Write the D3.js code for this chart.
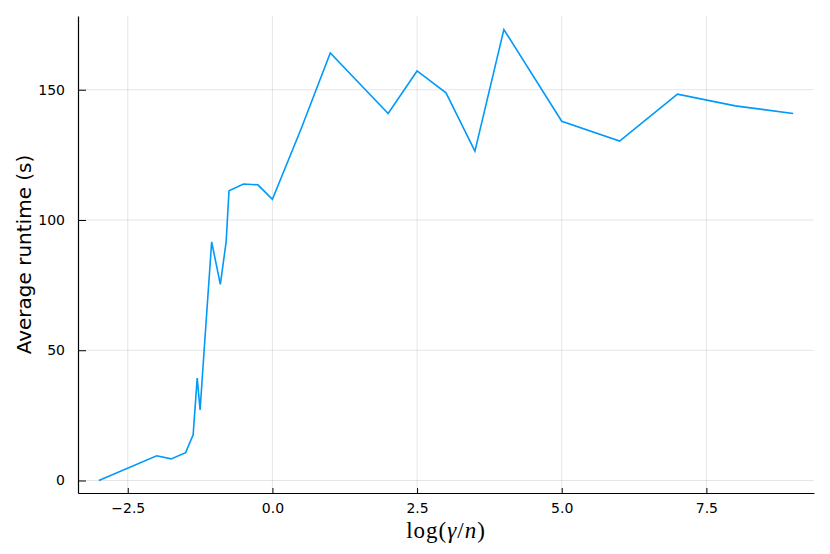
<!DOCTYPE html>
<html>
<head>
<meta charset="utf-8">
<script src="https://cdn.jsdelivr.net/npm/d3@7"></script>
<style>
  html, body { margin: 0; padding: 0; background: #fff; }
  svg { display: block; }
  .tick text { font-family: 'DejaVu Sans', sans-serif; font-size: 14px; fill: #000; }
</style>
</head>
<body>
<svg id="chart" width="830" height="554"></svg>
<script>
// ---- data ----
const logGammaN = [-3, -2, -1.75, -1.5, -1.37, -1.3, -1.25, -1.18, -1.05, -0.9, -0.8, -0.75, -0.5, -0.25, 0, 0.5, 1, 2, 2.5, 3, 3.5, 4, 5, 6, 7, 8, 9];
const avgRuntime = [0, 9.5, 8.3, 10.7, 17.5, 39.3, 27.1, 50, 91.6, 75.3, 91.6, 111.2, 113.8, 113.5, 107.9, 135.2, 164.1, 140.9, 157.2, 148.8, 126.4, 173.1, 137.9, 130.3, 148.3, 143.8, 140.9];
const xTicks = [-2.5, 0, 2.5, 5, 7.5];
const xTickLabels = ["\u22122.5", "0.0", "2.5", "5.0", "7.5"];
const yTicks = [0, 50, 100, 150];
const yTickLabels = ["0", "50", "100", "150"];
const xDomain = [-3.36, 9.36];
const yDomain = [-4.8, 178.3];

(function () {
  // ---- layout ----
  const pLeft = 78, pRight = 814, pTop = 16, pBottom = 493;
  const svg = d3.select("#chart");
  const x = d3.scaleLinear().domain(xDomain).range([pLeft, pRight]);
  const y = d3.scaleLinear().domain(yDomain).range([pBottom, pTop]);

  const font = "'DejaVu Sans', sans-serif";

  // grid
  svg.append("g").selectAll("line").data(xTicks).join("line")
    .attr("x1", d => x(d)).attr("x2", d => x(d))
    .attr("y1", pTop).attr("y2", pBottom)
    .attr("stroke", "#000").attr("stroke-opacity", 0.1).attr("stroke-width", 1);
  svg.append("g").selectAll("line").data(yTicks).join("line")
    .attr("x1", pLeft).attr("x2", pRight)
    .attr("y1", d => y(d)).attr("y2", d => y(d))
    .attr("stroke", "#000").attr("stroke-opacity", 0.1).attr("stroke-width", 1);

  // axes
  const xAxis = d3.axisBottom(x).tickValues(xTicks)
    .tickFormat((d, i) => xTickLabels[i]).tickSizeInner(-5).tickSizeOuter(0).tickPadding(10);
  const gx = svg.append("g").attr("transform", `translate(0,${pBottom})`).call(xAxis);
  gx.select(".domain").attr("stroke", "#000").attr("stroke-width", 1.2);
  gx.selectAll(".tick line").attr("stroke", "#000").attr("stroke-width", 1);

  const yAxis = d3.axisLeft(y).tickValues(yTicks)
    .tickFormat((d, i) => yTickLabels[i]).tickSizeInner(-8).tickSizeOuter(0).tickPadding(13);
  const gy = svg.append("g").attr("transform", `translate(${pLeft},0)`).call(yAxis);
  gy.select(".domain").attr("stroke", "#000").attr("stroke-width", 1.2);
  gy.selectAll(".tick line").attr("stroke", "#000").attr("stroke-width", 1);

  // line
  const pts = logGammaN.map((v, i) => [v, avgRuntime[i]]);
  svg.append("path")
    .datum(pts)
    .attr("fill", "none")
    .attr("stroke", "#009AFA")
    .attr("stroke-width", 1.6)
    .attr("stroke-linejoin", "miter")
    .attr("d", d3.line().x(d => x(d[0])).y(d => y(d[1])));

  // y label
  svg.append("text")
    .attr("transform", `translate(31,${(pTop + pBottom) / 2}) rotate(-90)`)
    .attr("text-anchor", "middle")
    .attr("font-family", font)
    .attr("font-size", 20)
    .attr("fill", "#000")
    .text("Average runtime (s)");

  // x label: log(γ/n) in math style
  const xl = svg.append("text")
    .attr("x", (pLeft + pRight) / 2)
    .attr("y", 538)
    .attr("text-anchor", "middle")
    .attr("font-family", "'Liberation Serif', 'DejaVu Serif', serif")
    .attr("font-size", 23)
    .attr("letter-spacing", 1)
    .attr("fill", "#000");
  xl.append("tspan").text("log(");
  xl.append("tspan").attr("font-style", "italic").text("γ");
  xl.append("tspan").text("/");
  xl.append("tspan").attr("font-style", "italic").text("n");
  xl.append("tspan").text(")");
})();
</script>
</body>
</html>
